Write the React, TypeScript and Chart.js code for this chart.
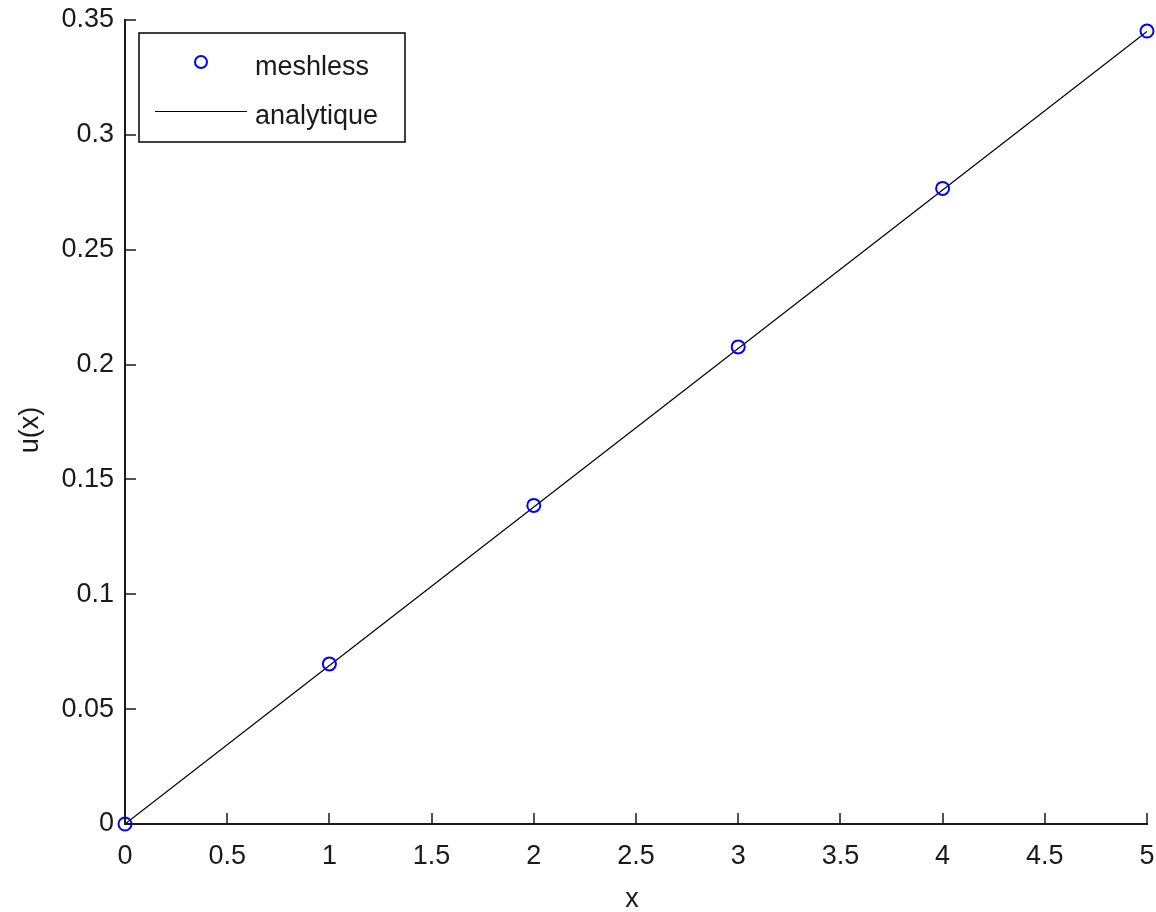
import React, { useEffect, useRef } from "react";
import { Chart, registerables } from "chart.js";

Chart.register(...registerables);

const xValues = [0, 1, 2, 3, 4, 5];
const meshless = [0, 0.0697, 0.1387, 0.2077, 0.2767, 0.3452];
const analytique = [0, 0.069, 0.138, 0.207, 0.276, 0.345];
const seriesLabels = ["meshless", "analytique"];
const xTitle = "x";
const yTitle = "u(x)";

const FONT = '"Liberation Sans", Arial, sans-serif';
const TEXT = "#1a1a1a";

const customPlugin = {
  id: "matlabStyle",
  afterDatasetsDraw(chart: any) {
    const { ctx, chartArea, scales } = chart;
    const xs = scales.x;
    const ys = scales.y;
    ctx.save();
    // inward ticks
    ctx.strokeStyle = TEXT;
    ctx.lineWidth = 1.5;
    ctx.beginPath();
    xs.ticks.forEach((t: any) => {
      const px = Math.round(xs.getPixelForValue(t.value));
      ctx.moveTo(px, chartArea.bottom);
      ctx.lineTo(px, chartArea.bottom - 11);
    });
    ys.ticks.forEach((t: any) => {
      const py = Math.round(ys.getPixelForValue(t.value));
      ctx.moveTo(chartArea.left, py);
      ctx.lineTo(chartArea.left + 11, py);
    });
    ctx.stroke();

    // axis titles
    ctx.fillStyle = TEXT;
    ctx.font = `27px ${FONT}`;
    ctx.textAlign = "center";
    ctx.textBaseline = "middle";
    ctx.fillText(xTitle, (chartArea.left + chartArea.right) / 2 - 4, 900);
    ctx.save();
    ctx.translate(31, 430);
    ctx.rotate(-Math.PI / 2);
    ctx.fillText(yTitle, 0, 0);
    ctx.restore();

    // legend box
    const lx = chartArea.left + 14;
    const ly = chartArea.top + 13;
    const lw = 266;
    const lh = 109;
    ctx.fillStyle = "#ffffff";
    ctx.fillRect(lx, ly, lw, lh);
    ctx.strokeStyle = "#000000";
    ctx.lineWidth = 1.5;
    ctx.strokeRect(lx, ly, lw, lh);

    // meshless entry
    ctx.strokeStyle = "#0000ff";
    ctx.lineWidth = 2;
    ctx.beginPath();
    ctx.arc(lx + 62, ly + 29, 6, 0, Math.PI * 2);
    ctx.stroke();
    // analytique entry
    ctx.strokeStyle = "#000000";
    ctx.lineWidth = 1.2;
    ctx.beginPath();
    ctx.moveTo(lx + 16, ly + 78.5);
    ctx.lineTo(lx + 108, ly + 78.5);
    ctx.stroke();

    ctx.fillStyle = TEXT;
    ctx.textAlign = "left";
    ctx.textBaseline = "middle";
    ctx.font = `27px ${FONT}`;
    ctx.fillText(seriesLabels[0], lx + 116, ly + 35);
    ctx.fillText(seriesLabels[1], lx + 116, ly + 84);
    ctx.restore();
  },
};

export default function App() {
  const ref = useRef<HTMLCanvasElement>(null);
  useEffect(() => {
    if (!ref.current) return;
    const chart = new Chart(ref.current, {
      type: "line",
      data: {
        datasets: [
          {
            label: seriesLabels[1],
            data: xValues.map((x, i) => ({ x, y: analytique[i] })),
            borderColor: "#000000",
            borderWidth: 1.2,
            pointRadius: 0,
            showLine: true,
            fill: false,
            tension: 0,
            order: 2,
          },
          {
            label: seriesLabels[0],
            data: xValues.map((x, i) => ({ x, y: meshless[i] })),
            borderColor: "#0000ff",
            backgroundColor: "rgba(0,0,0,0)",
            borderWidth: 2,
            pointRadius: 6.5,
            pointBorderWidth: 2,
            pointBorderColor: "#0000ff",
            pointBackgroundColor: "rgba(0,0,0,0)",
            showLine: false,
            clip: false as any,
            order: 1,
          },
        ],
      },
      options: {
        animation: false,
        responsive: false,
        maintainAspectRatio: false,
        layout: { padding: { left: 0, top: 20, right: 9, bottom: 0 } },
        plugins: {
          legend: { display: false },
          tooltip: { enabled: false },
        },
        scales: {
          x: {
            type: "linear",
            min: 0,
            max: 5,
            ticks: {
              stepSize: 0.5,
              padding: 16,
              color: TEXT,
              font: { family: FONT, size: 27 },
              maxRotation: 0,
              callback: (v: any) => String(Number(Number(v).toFixed(2))),
            },
            grid: { display: false, drawTicks: false },
            border: { display: true, color: TEXT, width: 2 },
            afterFit: (s: any) => {
              s.height = 88;
              s.paddingLeft = 0;
              s.paddingRight = 0;
            },
          },
          y: {
            type: "linear",
            min: 0,
            max: 0.35,
            ticks: {
              stepSize: 0.05,
              padding: 11,
              color: TEXT,
              font: { family: FONT, size: 27 },
              callback: (v: any) => String(Number(Number(v).toFixed(2))),
            },
            grid: { display: false, drawTicks: false },
            border: { display: true, color: TEXT, width: 2 },
            afterFit: (s: any) => {
              s.width = 125;
              s.paddingTop = 0;
              s.paddingBottom = 0;
            },
          },
        },
      },
      plugins: [customPlugin],
    });
    return () => chart.destroy();
  }, []);
  return (
    <div style={{ position: "fixed", left: 0, top: 0, width: 1156, height: 912, background: "#fff" }}>
      <canvas ref={ref} width={1156} height={912} style={{ display: "block" }} />
    </div>
  );
}
